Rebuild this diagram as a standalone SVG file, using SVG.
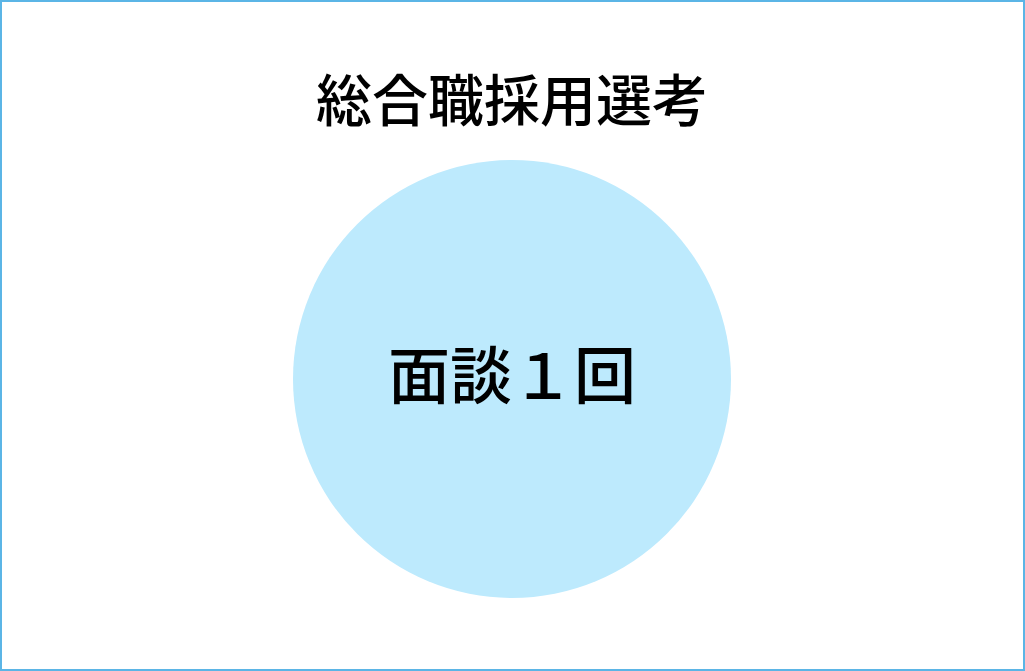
<svg xmlns="http://www.w3.org/2000/svg" width="1025" height="671" viewBox="0 0 1025 671">
<style>
.t{font-family:"Noto Sans CJK JP","Noto Sans",sans-serif;fill:#000;text-anchor:middle;font-weight:500}
</style>
<rect x="1" y="1" width="1023" height="669" fill="#fff" stroke="#5bb5e6" stroke-width="2"/>
<g id="title"><text class="t" x="512" y="121" font-size="56">総合職採用選考</text></g>
<g id="node-interview">
<circle cx="512" cy="379" r="219" fill="#bdeafd"/>
<text class="t" x="512" y="399" font-size="62">面談１回</text>
</g>
<g id="connectors"/>
</svg>
